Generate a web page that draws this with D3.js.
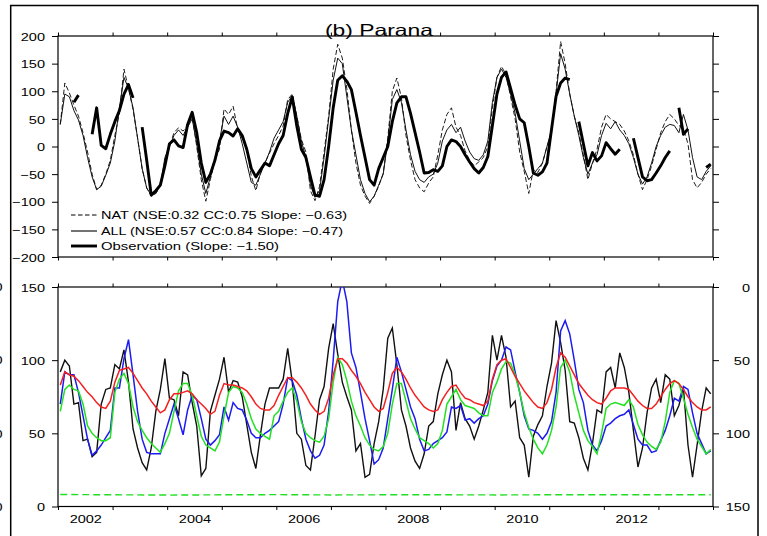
<!DOCTYPE html>
<html><head><meta charset="utf-8">
<script src="https://cdn.jsdelivr.net/npm/d3@7"></script>
<style>
body{margin:0;background:#fff}
svg{display:block}
text{font-family:"Liberation Sans",Arial,Helvetica,sans-serif;fill:#000}
</style>
</head><body>
<svg id="c" width="767" height="536"></svg>
<script>
// ---------------- data ----------------
const startYear = 2002, endYear = 2014;
const yearLabels = [2002, 2004, 2006, 2008, 2010, 2012];
const topTickValues = [-200, -150, -100, -50, 0, 50, 100, 150, 200];
const bottomTickValues = [0, 50, 100, 150];
const titleText = "(b) Parana";
const legendLabels = [
  "NAT (NSE:0.32 CC:0.75 Slope: \u22120.63)",
  "ALL (NSE:0.57 CC:0.84 Slope: \u22120.47)",
  "Observation (Slope: \u22121.50)"
];

// top panel, monthly Jan 2002 .. Dec 2013
const nat = [
  40,115,97,75,55,25,-10,-50,-78,-70,-50,-25,
  20,60,140,105,67,15,-40,-75,-90,-85,-72,-35,
  0,25,34,28,37,55,0,-60,-99,-60,-25,-5,
  68,58,73,31,15,-5,-54,-80,-48,-30,-12,5,
  20,37,85,95,55,13,-10,-80,-98,-72,-10,55,
  140,185,160,105,30,-30,-70,-90,-103,-90,-72,-48,
  15,100,124,88,20,-25,-60,-75,-82,-66,-55,-15,
  30,58,70,35,20,-8,-25,-35,-28,-20,0,70,
  125,145,130,90,50,-10,-45,-85,-42,-47,-30,0,
  25,100,190,150,95,55,25,-15,-60,-30,-5,35,
  58,50,45,40,28,10,-15,-50,-78,-60,-35,-5,
  25,45,58,50,38,32,5,-60,-75,-65,-50,-40
];
const all = [
  40,95,90,65,48,20,-20,-55,-78,-72,-52,-30,
  10,70,125,105,70,15,-40,-75,-88,-85,-70,-20,
  0,20,30,20,35,50,5,-50,-85,-55,-25,10,
  55,40,55,35,5,-30,-65,-70,-50,-30,-10,15,
  30,45,80,92,55,10,-20,-70,-92,-80,-20,50,
  120,160,150,90,30,-15,-60,-85,-100,-90,-70,-50,
  10,85,103,80,30,-15,-45,-60,-65,-55,-50,-30,
  10,30,40,25,35,10,-10,-22,-25,-15,10,80,
  125,140,125,95,60,10,-40,-60,-50,-40,-30,0,
  30,95,168,140,95,55,20,-20,-50,-30,-15,20,
  42,32,45,30,20,5,-20,-50,-68,-55,-30,0,
  20,35,40,38,25,58,30,-20,-55,-60,-45,-35
];
const obs = [
  null,null,null,80,93,null,null,22,70,2,-4,22,
  45,65,95,112,88,null,35,-25,-88,-80,-70,-35,
  5,12,1,-2,40,62,25,-30,-65,-50,-25,10,
  28,25,19,32,20,-5,-40,-55,-42,-30,-35,-15,
  5,20,60,90,37,-5,-20,-55,-88,-90,-60,0,
  70,120,128,118,103,62,20,-20,-60,-70,-40,-20,
  0,45,79,90,90,60,25,-10,-48,-47,-42,-45,
  -35,0,12,9,0,-15,-28,-40,-48,-38,-18,38,
  95,125,135,105,75,50,43,0,-48,-52,-46,-30,
  31,91,115,124,121,null,45,5,-35,-11,-26,-17,
  7,-4,-14,-5,null,null,15,-20,-55,-62,-60,-48,
  -35,-20,-8,null,70,22,32,null,null,null,-38,-32
];

// bottom panel, monthly Jan 2002 .. Dec 2013
const blackSeries = [
  92,100,96,70,71,45,46,34,37,70,80,81,
  97,94,107,85,53,40,30,25,40,65,80,101,
  74,73,62,92,90,71,55,21,26,65,76,87,
  102,78,86,85,75,56,37,26,49,70,81,81,
  81,87,108,85,50,46,28,25,48,73,82,108,
  125,104,85,75,66,38,43,20,22,43,58,80,
  115,122,97,66,55,40,31,26,36,55,58,77,
  90,100,92,52,71,60,55,46,55,66,78,117,
  100,117,102,68,72,47,42,20,48,56,62,82,
  98,127,112,93,58,57,47,33,25,43,66,64,
  92,95,81,105,95,78,52,27,40,64,81,87,
  71,90,87,62,69,81,42,20,42,65,81,77
];
const blueSeries = [
  70,92,90,90,78,62,46,35,38,42,47,52,
  81,81,101,114,90,65,46,37,36,36,36,50,
  60,70,60,49,66,76,73,60,46,42,45,49,
  68,59,71,67,66,59,50,47,47,50,52,55,
  58,70,88,86,76,60,46,38,33,35,42,65,
  100,140,155,140,105,95,78,60,45,29,32,40,
  60,80,102,92,80,68,60,46,38,39,43,45,
  47,51,68,67,69,59,60,57,60,62,70,86,
  96,100,109,107,92,78,62,53,52,50,46,50,
  58,78,120,127,118,100,80,71,52,42,38,45,
  55,57,60,62,63,66,56,46,42,42,37,38,
  45,52,62,74,72,82,80,64,50,43,36,38
];
const greenSeries = [
  65,80,83,80,79,70,55,50,47,45,45,47,
  78,87,91,84,68,58,52,47,43,40,37,43,
  50,65,79,84,84,76,62,48,42,40,38,44,
  62,78,82,81,78,70,60,53,50,48,46,62,
  65,72,78,81,72,58,50,47,45,44,48,60,
  85,102,97,86,72,62,55,47,42,39,38,41,
  50,70,84,84,72,60,53,47,45,43,40,43,
  52,70,75,80,73,69,68,67,64,62,62,78,
  85,94,99,98,90,78,64,54,46,40,36,42,
  52,68,95,100,92,76,64,52,45,41,36,50,
  67,70,71,70,69,73,68,56,49,44,41,39,
  44,58,78,86,84,74,63,54,46,41,36,39
];
const redSeries = [
  83,92,90,89,86,82,78,75,71,68,67,72,
  85,93,94,95,91,86,81,77,72,68,64,66,
  73,77,77,78,79,77,73,70,67,63,65,76,
  84,83,83,82,81,79,75,70,67,66,66,69,
  76,82,88,88,85,81,76,70,66,63,65,74,
  90,101,101,98,93,89,84,78,73,68,65,67,
  78,91,95,92,87,81,76,72,68,66,65,66,
  73,78,82,83,78,74,73,71,70,69,72,87,
  97,100,101,95,89,84,79,75,71,68,67,71,
  80,95,105,102,96,90,84,80,76,73,71,70,
  74,79,81,81,81,80,76,72,69,67,67,70,
  75,80,84,86,84,80,75,71,68,66,66,68
];
// green dashed reference line (month index, value)
const refMonth = [0,12,24,36,48,60,72,84,96,108,120,132,143];
const refValue = [8.2,8.0,7.8,8.0,8.1,7.9,8.0,8.0,7.9,8.0,8.0,8.0,8.0];

// ---------------- layout ----------------
const svg = d3.select("#c");
const L = 58, R = 713;
const topT = 36, topB = 257, botT = 287, botB = 506.5;
const x = d3.scaleLinear().domain([startYear, endYear]).range([L, R]);
const monthT = i => startYear + (i + 0.5) / 12;
const yTop = d3.scaleLinear().domain([-200, 200]).range([topB, topT]);
const yBot = d3.scaleLinear().domain([0, 150]).range([botB, botT]);
const yBotR = d3.scaleLinear().domain([150, 0]).range([botB, botT]);
const fmtNum = d => d < 0 ? "\u2212" + Math.abs(d) : String(d);
const SX = 1.25, FS = 11.6;

const defs = svg.append("defs");
defs.append("clipPath").attr("id", "clipTop").append("rect")
  .attr("x", L).attr("y", topT).attr("width", R - L).attr("height", topB - topT);
defs.append("clipPath").attr("id", "clipBot").append("rect")
  .attr("x", L).attr("y", botT).attr("width", R - L).attr("height", botB - botT);

// outer figure frame
svg.append("path").attr("d", "M10.7,536V5.5H758V536")
  .attr("fill", "none").attr("stroke", "#000").attr("stroke-width", 1.5);

// cut-off labels of neighbouring panel at far left
svg.append("g").selectAll("text").data(bottomTickValues).join("text")
  .attr("text-anchor", "end").attr("font-size", FS)
  .attr("transform", d => `translate(2.6,${yBot(d)}) scale(${SX},1)`)
  .attr("dy", "0.36em").text("0");

function clean(g) {
  g.attr("font-size", null).attr("font-family", null);
  g.select(".domain").remove();
  g.selectAll(".tick line").attr("stroke", "#000").attr("stroke-width", 1);
}
const yearTicks = d3.range(startYear, endYear + 1);

function panelAxes(yScale, top, bottom, leftVals, leftFmt, rightScale, rightVals, rightLabels) {
  // year ticks top & bottom
  svg.append("g").attr("transform", `translate(0,${top})`)
    .call(d3.axisTop(x).tickValues(yearTicks).tickSize(3.5).tickFormat(""))
    .call(clean);
  svg.append("g").attr("transform", `translate(0,${bottom})`)
    .call(d3.axisBottom(x).tickValues(yearTicks).tickSize(3.5).tickFormat(""))
    .call(clean);
  // left
  svg.append("g").attr("transform", `translate(${L},0)`)
    .call(d3.axisLeft(yScale).tickValues(leftVals).tickSize(6).tickFormat(leftFmt))
    .call(clean)
    .call(g => g.selectAll(".tick text").attr("x", 0).attr("dy", "0.36em")
      .attr("font-size", FS).attr("fill", "#000").attr("text-anchor", "end")
      .attr("transform", `translate(-13,0) scale(${SX},1)`));
  // right
  const ra = svg.append("g").attr("transform", `translate(${R},0)`)
    .call(d3.axisRight(rightScale).tickValues(rightVals).tickSize(6)
      .tickFormat(rightLabels ? (d => String(d)) : ""))
    .call(clean);
  if (rightLabels) {
    ra.selectAll(".tick text").attr("x", 0).attr("dy", "0.36em")
      .attr("font-size", FS).attr("fill", "#000").attr("text-anchor", "end")
      .attr("transform", `translate(37,0) scale(${SX},1)`);
  }
  // frame
  svg.append("rect").attr("x", L).attr("y", top).attr("width", R - L).attr("height", bottom - top)
    .attr("fill", "none").attr("stroke", "#000").attr("stroke-width", 1.2);
}

panelAxes(yTop, topT, topB, topTickValues, fmtNum, yTop, topTickValues, false);
panelAxes(yBot, botT, botB, bottomTickValues, d => String(d), yBotR, bottomTickValues, true);

// year labels (centred in the year)
svg.append("g").attr("transform", `translate(0,${botB})`)
  .call(d3.axisBottom(x).tickValues(yearLabels.map(d => d + 0.5)).tickSize(0)
    .tickFormat(d => String(Math.floor(d))))
  .call(clean)
  .call(g => g.selectAll(".tick text").attr("y", 16.8).attr("dy", 0)
    .attr("font-size", FS).attr("fill", "#000")
    .attr("transform", `scale(${SX},1)`));

// ---------------- top panel lines ----------------
const lineTop = d3.line().defined(d => d != null)
  .x((d, i) => x(monthT(i))).y(d => yTop(d));
const gTop = svg.append("g").attr("clip-path", "url(#clipTop)");
gTop.append("path").attr("d", lineTop(nat)).attr("fill", "none")
  .attr("stroke", "#111").attr("stroke-width", 0.95).attr("stroke-dasharray", "5,2.5");
gTop.append("path").attr("d", lineTop(all)).attr("fill", "none")
  .attr("stroke", "#111").attr("stroke-width", 1.0).attr("stroke-linejoin", "round");
gTop.append("path").attr("d", lineTop(obs)).attr("fill", "none")
  .attr("stroke", "#000").attr("stroke-width", 2.9).attr("stroke-linejoin", "round");

// ---------------- bottom panel lines ----------------
const lineBot = d3.line().x((d, i) => x(monthT(i))).y(d => yBot(d));
const gBot = svg.append("g").attr("clip-path", "url(#clipBot)");
gBot.append("path").attr("d", lineBot(blackSeries)).attr("fill", "none")
  .attr("stroke", "#111").attr("stroke-width", 1.4);
gBot.append("path").attr("d", lineBot(blueSeries)).attr("fill", "none")
  .attr("stroke", "#1c1cf0").attr("stroke-width", 1.5);
gBot.append("path").attr("d", lineBot(greenSeries)).attr("fill", "none")
  .attr("stroke", "#22e022").attr("stroke-width", 1.5);
gBot.append("path").attr("d", lineBot(redSeries)).attr("fill", "none")
  .attr("stroke", "#f42020").attr("stroke-width", 1.5);
const lineRef = d3.line().x((d, k) => x(monthT(refMonth[k]))).y(d => yBot(d));
gBot.append("path").attr("d", lineRef(refValue)).attr("fill", "none")
  .attr("stroke", "#22dd22").attr("stroke-width", 1.4).attr("stroke-dasharray", "7,4");

// ---------------- title & legend ----------------
svg.append("text").attr("x", 325).attr("y", 36).attr("font-size", 16.5)
  .attr("textLength", 108).attr("lengthAdjust", "spacingAndGlyphs").text(titleText);

const legY = [215, 231, 246];
const legBase = [218.8, 234.6, 250];
const legLen = [246, 242, 178];
const legStyles = [
  {w: 1, dash: "4.5,2.5"}, {w: 1.1, dash: null}, {w: 2.9, dash: null}
];
const lg = svg.append("g");
legendLabels.forEach((lab, k) => {
  lg.append("line").attr("x1", 71).attr("x2", 97).attr("y1", legY[k]).attr("y2", legY[k])
    .attr("stroke", "#000").attr("stroke-width", legStyles[k].w)
    .attr("stroke-dasharray", legStyles[k].dash);
  lg.append("text").attr("x", 101).attr("y", legBase[k]).attr("font-size", 11)
    .attr("textLength", legLen[k]).attr("lengthAdjust", "spacingAndGlyphs").text(lab);
});
</script>
</body></html>
